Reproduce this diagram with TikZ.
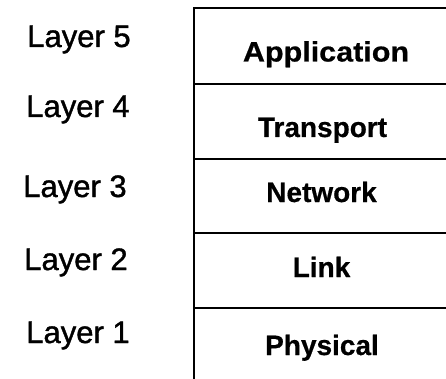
\documentclass[tikz,border=0pt]{standalone}
\usepackage{fontspec}
\setmainfont{Liberation Sans}
\newfontfamily\boxfont[FakeBold=0.6]{Liberation Sans Bold}
\newfontfamily\labfont[FakeBold=1.2]{Liberation Sans}
\begin{document}
\begin{tikzpicture}[x=1pt,y=-1pt,
  stackline/.style={line width=1.8pt},
  layerlabel/.style={anchor=base,inner sep=0pt,font=\labfont\fontsize{31}{36}\selectfont},
  protolabel/.style={anchor=base,inner sep=0pt,font=\boxfont\fontsize{28}{32}\selectfont}]
\useasboundingbox (0,0) rectangle (446,379);
\fill[white] (0,0) rectangle (446,379);
% stack of layers (extends past the right and bottom edges)
\coordinate (tl) at (194,8);
\coordinate (bl) at (194,395);
\coordinate (tr) at (460,8);
\draw[stackline] (bl) -- (tl) -- (tr);
\draw[stackline] (194,84) -- (460,84);
\draw[stackline] (194,159) -- (460,159);
\draw[stackline] (194,233) -- (460,233);
\draw[stackline] (194,308) -- (460,308);
% protocol names
\node[protolabel, xscale=1.09, transform shape] (app) at (326,61.5) {Application};
\node[protolabel] (tra) at (322.5,137) {Transport};
\node[protolabel] (net) at (321.5,202) {Network};
\node[protolabel] (lnk) at (321.5,277) {Link};
\node[protolabel] (phy) at (322,355) {Physical};
% layer labels
\node[layerlabel] (l5) at (79,47) {Layer 5};
\node[layerlabel] (l4) at (78,117) {Layer 4};
\node[layerlabel] (l3) at (75,197) {Layer 3};
\node[layerlabel] (l2) at (76,270) {Layer 2};
\node[layerlabel] (l1) at (78,343) {Layer 1};
\end{tikzpicture}
\end{document}
